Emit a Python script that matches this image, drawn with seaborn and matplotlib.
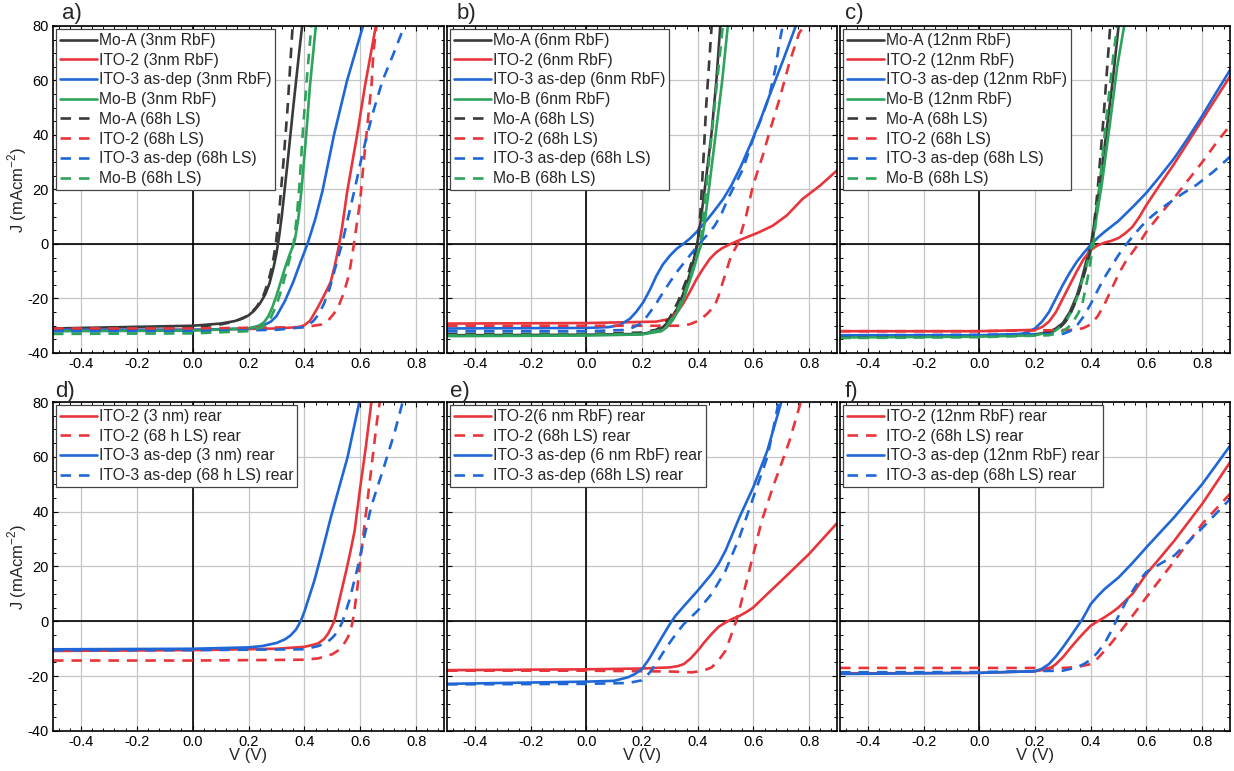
import matplotlib
matplotlib.use("Agg")
import matplotlib.pyplot as plt
from matplotlib.ticker import MultipleLocator
import seaborn as sns

# ---------------- data (V in volts, J in mA cm^-2) ----------------
# panel a (3nm RbF)
a_moa_v = [-0.5, 0.0, 0.1, 0.15, 0.18, 0.2, 0.22, 0.24, 0.26, 0.275, 0.29, 0.3, 0.31, 0.32, 0.34, 0.36, 0.38, 0.392]
a_moa_j = [-31, -30, -29.2, -28.3, -27.3, -26.2, -24.5, -22, -18.5, -14.5, -8.5, -3.5, 3, 11, 30, 50, 69, 80]
a_ito2_v = [-0.5, 0.0, 0.3, 0.38, 0.4, 0.42, 0.447, 0.47, 0.494, 0.51, 0.523, 0.535, 0.553, 0.588, 0.617, 0.656]
a_ito2_j = [-31.5, -31.5, -31, -30.5, -29.8, -28.2, -23.5, -19, -14, -7.5, -1, 6, 19, 39.5, 58, 80]
a_ito3_v = [-0.5, 0.0, 0.2, 0.25, 0.28, 0.3, 0.33, 0.36, 0.385, 0.4, 0.412, 0.425, 0.44, 0.465, 0.506, 0.553, 0.61]
a_ito3_j = [-31.5, -31.5, -31, -30, -28.5, -26.5, -21, -14, -7, -3, 0.3, 4.5, 9.5, 19.5, 40, 60, 80]
a_mob_v = [-0.5, 0.0, 0.2, 0.236, 0.255, 0.271, 0.285, 0.3, 0.315, 0.33, 0.345, 0.358, 0.366, 0.378, 0.389, 0.405, 0.42, 0.441]
a_mob_j = [-32, -31.8, -31, -30, -28.8, -26.5, -23.3, -19, -14, -9, -4.5, -1, 1.5, 9, 19, 38, 58, 80]
a_moa_ls_v = [-0.5, 0.0, 0.1, 0.15, 0.2, 0.23, 0.255, 0.27, 0.28, 0.29, 0.298, 0.31, 0.325, 0.34, 0.352, 0.358]
a_moa_ls_j = [-31.5, -30.5, -29.5, -28.5, -26.2, -23, -18.5, -14, -10, -5, 0, 12, 30, 50, 70, 80]
a_ito2_ls_v = [-0.5, 0.0, 0.4, 0.459, 0.49, 0.518, 0.541, 0.555, 0.565, 0.576, 0.588, 0.6, 0.611, 0.629, 0.641, 0.647, 0.658]
a_ito2_ls_j = [-31, -31, -30.5, -29.6, -27.5, -24, -18, -13, -8.2, -1, 7.5, 16, 28.5, 47, 59, 70, 80]
a_ito3_ls_v = [-0.5, 0.0, 0.3, 0.4, 0.43, 0.45, 0.47, 0.49, 0.51, 0.525, 0.535, 0.555, 0.58, 0.61, 0.645, 0.68, 0.72, 0.758]
a_ito3_ls_j = [-32, -32, -31.5, -30.5, -28.5, -26, -22, -16.5, -9, -3.5, 0, 9, 20, 34, 48, 60, 70, 80]
a_mob_ls_v = [-0.5, 0.0, 0.2, 0.25, 0.28, 0.3, 0.32, 0.34, 0.352, 0.362, 0.372, 0.382, 0.395, 0.41, 0.425]
a_mob_ls_j = [-33, -32.8, -32, -30.5, -27, -22.5, -16, -8.5, -3.5, 0.5, 9, 21, 42, 62, 80]

# panel b (6nm RbF)
b_moa_v = [-0.5, 0.0, 0.2, 0.25, 0.275, 0.3, 0.33, 0.36, 0.38, 0.39, 0.398, 0.41, 0.425, 0.449, 0.467, 0.481]
b_moa_j = [-33.5, -33.3, -33, -32, -30.5, -28, -23, -15, -8, -4, 0, 8, 20, 40, 60, 80]
b_ito2_v = [-0.5, 0.0, 0.25, 0.3, 0.33, 0.35, 0.371, 0.395, 0.419, 0.443, 0.467, 0.49, 0.514, 0.54, 0.574, 0.62, 0.669, 0.72, 0.776, 0.84, 0.9]
b_ito2_j = [-29.2, -29, -28.5, -27.5, -24.5, -21.5, -17.7, -13, -9.1, -5.5, -3, -1.4, -0.2, 1, 2.4, 4.3, 6.7, 10.5, 16.5, 21.5, 27]
b_ito3_v = [-0.5, 0.0, 0.08, 0.12, 0.157, 0.18, 0.205, 0.23, 0.252, 0.275, 0.3, 0.325, 0.348, 0.372, 0.395, 0.425, 0.455, 0.49, 0.52, 0.555, 0.592, 0.625, 0.657, 0.705, 0.752]
b_ito3_j = [-31, -30.8, -30.5, -29.8, -27.4, -24.8, -21.3, -16.5, -11.6, -7.5, -4.3, -1.7, 0, 2, 4.3, 7.8, 11.6, 16.3, 21.3, 28.5, 37.2, 45.5, 54.3, 67, 80]
b_mob_v = [-0.5, 0.0, 0.2, 0.27, 0.29, 0.31, 0.33, 0.35, 0.38, 0.4, 0.413, 0.425, 0.44, 0.464, 0.488, 0.508]
b_mob_j = [-33.8, -33.6, -33.2, -32, -30.5, -28, -24.5, -20, -11, -4, 0, 8, 20, 40, 60, 80]
b_moa_ls_v = [-0.5, 0.0, 0.2, 0.25, 0.275, 0.3, 0.33, 0.36, 0.38, 0.4, 0.41, 0.42, 0.43, 0.44, 0.45]
b_moa_ls_j = [-33, -33, -32.5, -31.5, -30, -27, -21, -13, -6, 0, 12, 30, 50, 65, 80]
b_ito2_ls_v = [-0.5, 0.0, 0.33, 0.37, 0.407, 0.435, 0.461, 0.475, 0.49, 0.52, 0.544, 0.574, 0.598, 0.633, 0.657, 0.693, 0.729, 0.764, 0.782]
b_ito2_ls_j = [-30, -30, -30, -29.5, -28, -25.5, -22.6, -19, -14, -4.3, 0, 10.4, 21.3, 32.3, 40.9, 53, 66.5, 77.4, 80]
b_ito3_ls_v = [-0.5, 0.0, 0.15, 0.2, 0.229, 0.25, 0.276, 0.3, 0.324, 0.35, 0.371, 0.395, 0.431, 0.461, 0.485, 0.508, 0.535, 0.562, 0.598, 0.63, 0.657, 0.68, 0.693, 0.705]
b_ito3_ls_j = [-32, -32, -31.5, -29, -25, -22, -17.7, -14, -10.4, -7, -4.3, -1.2, 3, 6.7, 11, 16.5, 22, 27.4, 38.4, 46.5, 54.3, 65, 73.8, 80]
b_mob_ls_v = [-0.5, 0.0, 0.2, 0.27, 0.29, 0.31, 0.33, 0.35, 0.38, 0.41, 0.43, 0.45, 0.47, 0.49]
b_mob_ls_j = [-33.5, -33.3, -33, -31.5, -29.8, -27, -23.5, -19, -10, 0, 20, 40, 60, 80]

# panel c (12nm RbF)
c_moa_v = [-0.5, 0.0, 0.2, 0.25, 0.275, 0.3, 0.325, 0.35, 0.365, 0.38, 0.39, 0.401, 0.415, 0.431, 0.455, 0.479, 0.5]
c_moa_j = [-33.8, -33.6, -33.2, -32.3, -31, -29, -25, -19, -14, -8, -4, 0, 9, 20, 40, 60, 80]
c_ito2_v = [-0.5, 0.0, 0.2, 0.225, 0.25, 0.275, 0.3, 0.325, 0.35, 0.375, 0.4, 0.425, 0.45, 0.475, 0.5, 0.525, 0.55, 0.575, 0.6, 0.65, 0.7, 0.8, 0.9]
c_ito2_j = [-32, -32, -31.5, -30.5, -28.5, -25, -20, -15, -10, -5.5, -2.2, -0.5, 0.5, 1.2, 2.2, 4, 6.3, 10, 14.3, 22, 29.5, 45.5, 61.5]
c_ito3_v = [-0.5, 0.0, 0.15, 0.175, 0.2, 0.225, 0.25, 0.275, 0.3, 0.325, 0.35, 0.375, 0.4, 0.425, 0.45, 0.5, 0.55, 0.6, 0.65, 0.7, 0.75, 0.8, 0.85, 0.9]
c_ito3_j = [-33.5, -33.5, -33, -32.3, -31, -28.5, -25, -20, -15, -10.5, -6.5, -3.3, -0.3, 2.3, 4.5, 8.5, 13.5, 18.8, 25, 31.5, 39, 47, 55.5, 63.8]
c_mob_v = [-0.5, 0.0, 0.2, 0.27, 0.29, 0.31, 0.33, 0.35, 0.38, 0.405, 0.44, 0.47, 0.495, 0.52]
c_mob_j = [-34.3, -34, -33.5, -32, -30.5, -28.5, -25, -20, -10, 0, 22, 45, 65, 80]
c_moa_ls_v = [-0.5, 0.0, 0.2, 0.28, 0.3, 0.32, 0.34, 0.36, 0.39, 0.405, 0.425, 0.445, 0.47]
c_moa_ls_j = [-34, -33.8, -33.3, -31.5, -29.5, -27, -22.5, -17, -6, 0, 20, 45, 80]
c_ito2_ls_v = [-0.5, 0.0, 0.35, 0.375, 0.4, 0.425, 0.45, 0.475, 0.5, 0.525, 0.55, 0.575, 0.6, 0.65, 0.7, 0.75, 0.8, 0.85, 0.9]
c_ito2_ls_j = [-32, -32, -31.5, -30.8, -29.5, -26.5, -22, -16.5, -11, -6.5, -3, 0.5, 4.5, 11, 17, 23.5, 30, 37, 43.5]
c_ito3_ls_v = [-0.5, 0.0, 0.3, 0.325, 0.35, 0.375, 0.4, 0.43, 0.455, 0.48, 0.5, 0.525, 0.55, 0.58, 0.61, 0.645, 0.68, 0.73, 0.78, 0.84, 0.9]
c_ito3_ls_j = [-33.5, -33.3, -33, -32, -30, -26.5, -22, -16, -11.4, -7.3, -4, -0.5, 2.7, 6.3, 9.4, 12.4, 15, 18.5, 21.7, 26.5, 32]
c_mob_ls_v = [-0.5, 0.0, 0.25, 0.3, 0.32, 0.34, 0.355, 0.37, 0.39, 0.41, 0.43, 0.455, 0.48, 0.495]
c_mob_ls_j = [-34.5, -34.2, -33.5, -32, -30.5, -28, -25.5, -22, -12, 0, 20, 45, 68, 80]

# panel d (3 nm, rear)
d_ito2_v = [-0.5, 0.0, 0.3, 0.4, 0.43, 0.45, 0.47, 0.485, 0.495, 0.507, 0.52, 0.535, 0.55, 0.565, 0.58, 0.6, 0.62, 0.64]
d_ito2_j = [-10.8, -10.5, -10, -9.3, -8.6, -8, -6.5, -4.5, -2.5, 0, 5.5, 12, 18.5, 25.5, 33, 48.9, 63.5, 80]
d_ito2_ls_v = [-0.5, 0.0, 0.4, 0.45, 0.5, 0.52, 0.54, 0.555, 0.565, 0.573, 0.58, 0.59, 0.6, 0.62, 0.64, 0.66, 0.67]
d_ito2_ls_j = [-14.3, -14.3, -14, -13.5, -12, -10.7, -8.5, -6, -3.5, 0, 4.5, 12.4, 22, 39, 56, 73, 80]
d_ito3_v = [-0.5, 0.0, 0.2, 0.25, 0.3, 0.33, 0.35, 0.37, 0.38, 0.39, 0.4, 0.436, 0.465, 0.495, 0.525, 0.555, 0.597]
d_ito3_j = [-10.2, -10, -9.5, -9, -7.9, -6.6, -5.2, -3, -1.2, 0.8, 3.5, 14.9, 26, 38, 49, 60, 80]
d_ito3_ls_v = [-0.5, 0.0, 0.4, 0.45, 0.48, 0.5, 0.515, 0.527, 0.537, 0.548, 0.561, 0.591, 0.615, 0.639, 0.66, 0.681, 0.722, 0.752]
d_ito3_ls_j = [-10.6, -10.5, -10.2, -9, -7.8, -6, -4.3, -2.2, 0, 3.5, 7.6, 19.7, 31, 41.7, 48.5, 55, 68.5, 80]

# panel e (6 nm RbF, rear)
e_ito2_v = [-0.5, 0.0, 0.2, 0.3, 0.33, 0.35, 0.375, 0.4, 0.425, 0.45, 0.475, 0.5, 0.525, 0.55, 0.575, 0.6, 0.65, 0.7, 0.8, 0.9]
e_ito2_j = [-17.8, -17.5, -17.2, -16.8, -16.3, -15.6, -13.5, -10.7, -7.5, -4.6, -2, -0.4, 0.9, 2, 3.4, 5.1, 10, 14.8, 24.6, 35.8]
e_ito2_ls_v = [-0.5, 0.0, 0.3, 0.38, 0.42, 0.45, 0.475, 0.5, 0.515, 0.53, 0.538, 0.55, 0.57, 0.6, 0.63, 0.67, 0.7, 0.73, 0.77]
e_ito2_ls_j = [-18, -18, -18.3, -18.6, -18, -16.8, -14.2, -10.7, -6.5, -2.2, 0, 4.5, 12.4, 24.6, 36.7, 49, 57.4, 66, 80]
e_ito3_v = [-0.5, 0.0, 0.1, 0.15, 0.175, 0.2, 0.225, 0.25, 0.275, 0.3, 0.32, 0.35, 0.4, 0.45, 0.475, 0.5, 0.55, 0.6, 0.65, 0.7]
e_ito3_j = [-22.8, -22, -21.7, -20.4, -19.2, -17.4, -13.8, -9.5, -5.2, -1, 2, 5.5, 11.2, 17.3, 21, 25.8, 38, 49, 62.3, 80]
e_ito3_ls_v = [-0.5, 0.0, 0.15, 0.2, 0.225, 0.25, 0.275, 0.3, 0.325, 0.35, 0.4, 0.45, 0.5, 0.55, 0.6, 0.65, 0.68, 0.69]
e_ito3_ls_j = [-23, -22.8, -22.5, -21.5, -19, -15.6, -11.5, -7.7, -4.2, -1, 3.9, 10, 18.5, 30.7, 45.3, 60, 74.5, 80]

# panel f (12nm RbF, rear)
f_ito2_v = [-0.5, 0.0, 0.2, 0.25, 0.275, 0.3, 0.325, 0.35, 0.375, 0.4, 0.425, 0.45, 0.475, 0.5, 0.55, 0.6, 0.65, 0.7, 0.8, 0.9]
f_ito2_j = [-19, -18.8, -18.2, -17.4, -15.6, -13.1, -10, -7, -4.2, -1.6, 0, 1.5, 3.2, 5.1, 10, 17.3, 23.3, 29.4, 42.8, 58]
f_ito2_ls_v = [-0.5, 0.0, 0.3, 0.35, 0.4, 0.425, 0.45, 0.475, 0.5, 0.525, 0.55, 0.6, 0.7, 0.8, 0.9]
f_ito2_ls_j = [-17, -17, -17, -16.7, -15.6, -13.5, -10.7, -7.8, -4.6, -1.3, 2, 8.8, 22, 35.5, 46.5]
f_ito3_v = [-0.5, 0.0, 0.2, 0.225, 0.25, 0.275, 0.3, 0.325, 0.35, 0.37, 0.385, 0.4, 0.425, 0.45, 0.5, 0.55, 0.6, 0.7, 0.8, 0.9]
f_ito3_j = [-19.2, -18.8, -18.2, -17.3, -15.6, -12.8, -9.5, -5.9, -2.2, 0.8, 3.5, 6.3, 9.2, 11.8, 16, 21.3, 27, 38, 50, 64]
f_ito3_ls_v = [-0.5, 0.0, 0.3, 0.35, 0.375, 0.4, 0.425, 0.45, 0.475, 0.5, 0.525, 0.55, 0.575, 0.6, 0.65, 0.7, 0.75, 0.8, 0.9]
f_ito3_ls_j = [-18.6, -18.5, -18, -16.8, -15.6, -14, -11.3, -8, -3.3, 2, 6.8, 11, 15, 18, 21, 24, 29, 34, 44.6]

# labels
a_labels = ["Mo-A (3nm RbF)", "ITO-2 (3nm RbF)", "ITO-3 as-dep (3nm RbF)", "Mo-B (3nm RbF)",
            "Mo-A (68h LS)", "ITO-2 (68h LS)", "ITO-3 as-dep (68h LS)", "Mo-B (68h LS)"]
b_labels = ["Mo-A (6nm RbF)", "ITO-2 (6nm RbF)", "ITO-3 as-dep (6nm RbF)", "Mo-B (6nm RbF)",
            "Mo-A (68h LS)", "ITO-2 (68h LS)", "ITO-3 as-dep (68h LS)", "Mo-B (68h LS)"]
c_labels = ["Mo-A (12nm RbF)", "ITO-2 (12nm RbF)", "ITO-3 as-dep (12nm RbF)", "Mo-B (12nm RbF)",
            "Mo-A (68h LS)", "ITO-2 (68h LS)", "ITO-3 as-dep (68h LS)", "Mo-B (68h LS)"]
d_labels = ["ITO-2 (3 nm) rear", "ITO-2 (68 h LS) rear", "ITO-3 as-dep (3 nm) rear",
            "ITO-3 as-dep (68 h LS) rear"]
e_labels = ["ITO-2(6 nm RbF) rear", "ITO-2 (68h LS) rear", "ITO-3 as-dep (6 nm RbF) rear",
            "ITO-3 as-dep (68h LS) rear"]
f_labels = ["ITO-2 (12nm RbF) rear", "ITO-2 (68h LS) rear", "ITO-3 as-dep (12nm RbF) rear",
            "ITO-3 as-dep (68h LS) rear"]
panel_tags = ["a)", "b)", "c)", "d)", "e)", "f)"]
x_ticks = [-0.4, -0.2, 0.0, 0.2, 0.4, 0.6, 0.8]
y_ticks = [-40, -20, 0, 20, 40, 60, 80]

# ---------------- style ----------------
sns.set_style("ticks")
plt.rcParams["font.family"] = ["Liberation Sans", "DejaVu Sans"]
plt.rcParams["axes.unicode_minus"] = False

C_BLK = "#3a3a3a"
C_RED = "#e8353b"
C_BLU = "#1f67d6"
C_GRN = "#2ea35c"
DASH = (0, (4, 3))
LW = 1.9

fig = plt.figure(figsize=(12.34, 7.71), dpi=100)
W, H = 1234.0, 771.0
cols = [(53, 444), (447, 837), (840, 1230)]
rows = [(26, 353), (402, 731)]
axes = []
for r, (yt, yb) in enumerate(rows):
    for c, (xl, xr) in enumerate(cols):
        ax = fig.add_axes([xl / W, 1 - yb / H, (xr - xl) / W, (yb - yt) / H])
        axes.append(ax)


def draw(ax, v, j, color, dashed, label):
    sns.lineplot(x=v, y=j, ax=ax, color=color, lw=LW,
                 linestyle=DASH if dashed else "-",
                 sort=False, estimator=None, label=label, legend=False)


top_sets = [
    (axes[0], a_labels,
     [(a_moa_v, a_moa_j), (a_ito2_v, a_ito2_j), (a_ito3_v, a_ito3_j), (a_mob_v, a_mob_j),
      (a_moa_ls_v, a_moa_ls_j), (a_ito2_ls_v, a_ito2_ls_j), (a_ito3_ls_v, a_ito3_ls_j), (a_mob_ls_v, a_mob_ls_j)]),
    (axes[1], b_labels,
     [(b_moa_v, b_moa_j), (b_ito2_v, b_ito2_j), (b_ito3_v, b_ito3_j), (b_mob_v, b_mob_j),
      (b_moa_ls_v, b_moa_ls_j), (b_ito2_ls_v, b_ito2_ls_j), (b_ito3_ls_v, b_ito3_ls_j), (b_mob_ls_v, b_mob_ls_j)]),
    (axes[2], c_labels,
     [(c_moa_v, c_moa_j), (c_ito2_v, c_ito2_j), (c_ito3_v, c_ito3_j), (c_mob_v, c_mob_j),
      (c_moa_ls_v, c_moa_ls_j), (c_ito2_ls_v, c_ito2_ls_j), (c_ito3_ls_v, c_ito3_ls_j), (c_mob_ls_v, c_mob_ls_j)]),
]
top_colors = [C_BLK, C_RED, C_BLU, C_GRN] * 2
top_dash = [False] * 4 + [True] * 4

bot_sets = [
    (axes[3], d_labels, [(d_ito2_v, d_ito2_j), (d_ito2_ls_v, d_ito2_ls_j), (d_ito3_v, d_ito3_j), (d_ito3_ls_v, d_ito3_ls_j)]),
    (axes[4], e_labels, [(e_ito2_v, e_ito2_j), (e_ito2_ls_v, e_ito2_ls_j), (e_ito3_v, e_ito3_j), (e_ito3_ls_v, e_ito3_ls_j)]),
    (axes[5], f_labels, [(f_ito2_v, f_ito2_j), (f_ito2_ls_v, f_ito2_ls_j), (f_ito3_v, f_ito3_j), (f_ito3_ls_v, f_ito3_ls_j)]),
]
bot_colors = [C_RED, C_RED, C_BLU, C_BLU]
bot_dash = [False, True, False, True]

for ax, labels, curves in top_sets:
    for (v, j), col, ds, lab in zip(curves, top_colors, top_dash, labels):
        draw(ax, v, j, col, ds, lab)
for ax, labels, curves in bot_sets:
    for (v, j), col, ds, lab in zip(curves, bot_colors, bot_dash, labels):
        draw(ax, v, j, col, ds, lab)

for i, ax in enumerate(axes):
    ax.set_xlim(-0.5, 0.9)
    ax.set_ylim(-40, 80)
    ax.set_xticks(x_ticks)
    ax.set_yticks(y_ticks)
    ax.xaxis.set_minor_locator(MultipleLocator(0.04))
    ax.yaxis.set_minor_locator(MultipleLocator(5))
    ax.set_xticklabels([f"{t:.1f}" for t in x_ticks])
    ax.grid(True, which="major", color="#c6c6c6", lw=0.9, zorder=0)
    ax.set_axisbelow(True)
    ax.axhline(0, color="black", lw=1.2, zorder=1)
    ax.axvline(0, color="black", lw=1.2, zorder=1)
    ax.tick_params(which="both", direction="in", top=True, right=True, labelsize=10.5,
                   colors="black", pad=3)
    ax.tick_params(which="major", length=3.5, width=0.8)
    ax.tick_params(which="minor", length=2, width=0.7)
    for s in ax.spines.values():
        s.set_linewidth(1.2)
        s.set_color("black")
    if i % 3 != 0:
        ax.tick_params(labelleft=False)
    else:
        ax.set_ylabel("J (mAcm$^{\\mathregular{-2}}$)", fontsize=12, labelpad=-1)
    if i >= 3:
        ax.set_xlabel("V (V)", fontsize=12, labelpad=-1)
    else:
        ax.set_xlabel("")
    leg = ax.legend(loc="upper left", fontsize=11.3, frameon=True, fancybox=False,
                    framealpha=1, edgecolor="#444444", handlelength=2.35,
                    handletextpad=0.12, borderpad=0.25, labelspacing=0.3,
                    borderaxespad=0.2)
    leg.get_frame().set_linewidth(0.9)

tag_pos = [(62, 14), (457, 14), (845, 14), (55, 392), (450, 392), (845, 392)]
for tag, (px, py) in zip(panel_tags, tag_pos):
    fig.text(px / W, 1 - py / H, tag, fontsize=16, ha="left", va="center")

fig.savefig("out.png", dpi=100)
